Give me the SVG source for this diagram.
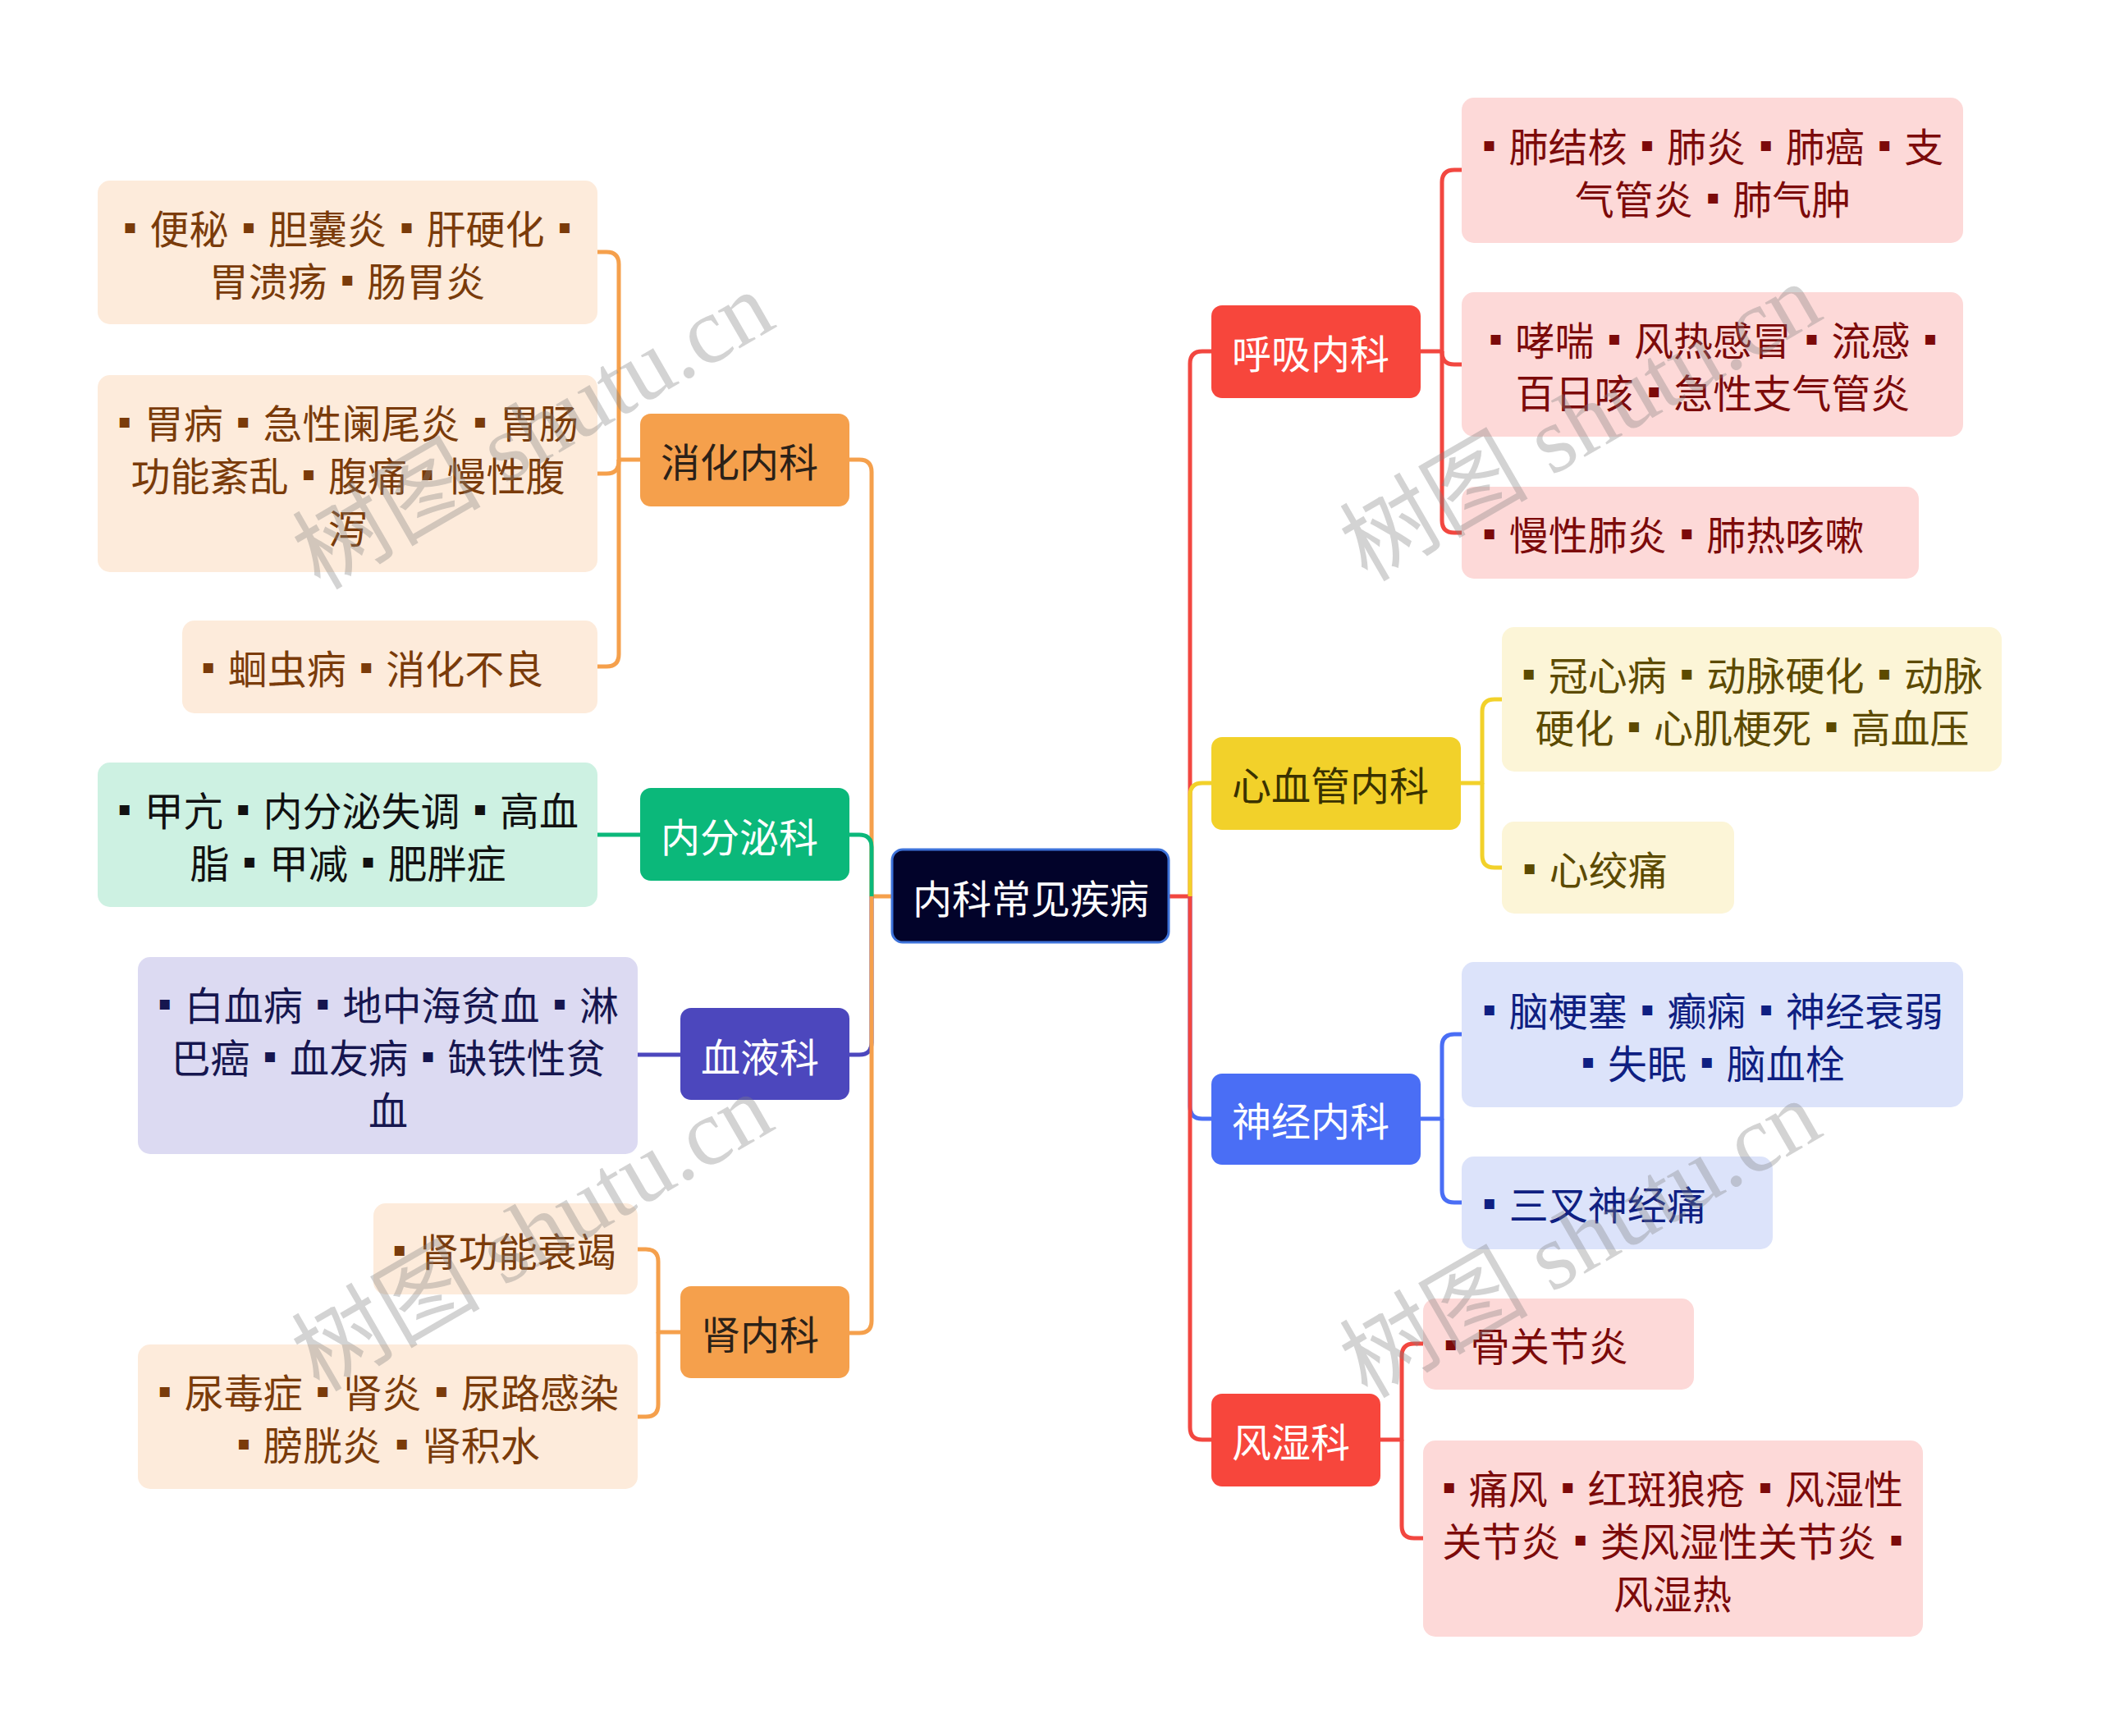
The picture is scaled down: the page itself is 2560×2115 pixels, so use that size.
<svg xmlns="http://www.w3.org/2000/svg" width="2560" height="2115" viewBox="0 0 2560 2115">
<style>
text{font-family:"Noto Sans CJK SC","Noto Sans",sans-serif;font-size:48px;dominant-baseline:central}
.b{font-family:"Liberation Sans","Noto Sans CJK SC",sans-serif}
.c{stroke-width:5;fill:none;stroke-linejoin:round;stroke-linecap:butt}
.or{stroke:#f5a04c}.gr{stroke:#0bb87a}.pu{stroke:#4c47bd}.rd{stroke:#f24740}.ye{stroke:#f2d12a}.bl{stroke:#4a6ef5}
.m{text-anchor:middle}
.to,.tg,.tp,.tr,.ty,.tb{word-spacing:5px}
.to{fill:#7a3b0a}.tg{fill:#111111}.tp{fill:#16164f}.tr{fill:#7c0a0a}.ty{fill:#5c4a00}.tb{fill:#0f1f82}
.w{fill:#ffffff}.dk{fill:#2b2118}.dy{fill:#3a3200}
.wm{font-family:"Liberation Serif","Noto Sans CJK SC",serif;font-size:115px;fill:#808080;fill-opacity:0.35;text-anchor:middle}
</style>
<rect width="2560" height="2115" fill="#ffffff"/>
<g id="connectors">
<path class="c or" d="M1087 1092 H1062 V575 Q1062 560 1047 560 H1035"/>
<path class="c gr" d="M1062 1092 V1032 Q1062 1017 1047 1017 H1035"/>
<path class="c pu" d="M1062 1092 V1270 Q1062 1285 1047 1285 H1035"/>
<path class="c or" d="M1062 1092 V1609 Q1062 1624 1047 1624 H1035"/>
<path class="c rd" d="M1424 1092 H1450 V443 Q1450 428 1465 428 H1476"/>
<path class="c ye" d="M1450 1092 V969 Q1450 954 1465 954 H1476"/>
<path class="c bl" d="M1450 1092 V1348 Q1450 1363 1465 1363 H1476"/>
<path class="c rd" d="M1450 1092 V1739 Q1450 1754 1465 1754 H1476"/>
<path class="c or" d="M780 560 H754 V322 Q754 307 739 307 H728"/>
<path class="c or" d="M754 560 V562 Q754 577 739 577 H728"/>
<path class="c or" d="M754 560 V797 Q754 812 739 812 H728"/>
<path class="c gr" d="M780 1017 H728"/>
<path class="c pu" d="M829 1285 H777"/>
<path class="c or" d="M829 1623 H802 V1537 Q802 1522 787 1522 H777"/>
<path class="c or" d="M802 1623 V1711 Q802 1726 787 1726 H777"/>
<path class="c rd" d="M1731 428 H1757 V222 Q1757 207 1772 207 H1781"/>
<path class="c rd" d="M1757 428 V429 Q1757 444 1772 444 H1781"/>
<path class="c rd" d="M1757 428 V634 Q1757 649 1772 649 H1781"/>
<path class="c ye" d="M1780 954 H1806 V867 Q1806 852 1821 852 H1830"/>
<path class="c ye" d="M1806 954 V1042 Q1806 1057 1821 1057 H1830"/>
<path class="c bl" d="M1731 1363 H1757 V1275 Q1757 1260 1772 1260 H1781"/>
<path class="c bl" d="M1757 1363 V1450 Q1757 1465 1772 1465 H1781"/>
<path class="c rd" d="M1682 1754 H1708 V1652 Q1708 1637 1723 1637 H1734"/>
<path class="c rd" d="M1708 1754 V1859 Q1708 1874 1723 1874 H1734"/>
</g>
<g id="root">
<rect x="1087" y="1035" width="337" height="113" rx="13" fill="#02032a" stroke="#3d72d9" stroke-width="3"/>
<text class="w" x="1112" y="1092">内科常见疾病</text>
</g>
<g id="n-xiaohua">
<rect x="780" y="504" width="255" height="113" rx="13" fill="#f5a04c"/>
<text class="dk" x="805" y="560">消化内科</text>
</g>
<g id="n-neifenmi">
<rect x="780" y="960" width="255" height="113" rx="13" fill="#0bb87a"/>
<text class="w" x="805" y="1017">内分泌科</text>
</g>
<g id="n-xueye">
<rect x="829" y="1228" width="206" height="112" rx="13" fill="#4c47bd"/>
<text class="w" x="854" y="1285">血液科</text>
</g>
<g id="n-shen">
<rect x="829" y="1567" width="206" height="112" rx="13" fill="#f5a04c"/>
<text class="dk" x="854" y="1623">肾内科</text>
</g>
<g id="n-huxi">
<rect x="1476" y="372" width="255" height="113" rx="13" fill="#f7463c"/>
<text class="w" x="1501" y="428">呼吸内科</text>
</g>
<g id="n-xinxueguan">
<rect x="1476" y="898" width="304" height="113" rx="13" fill="#f2d12a"/>
<text class="dy" x="1501" y="954">心血管内科</text>
</g>
<g id="n-shenjing">
<rect x="1476" y="1308" width="255" height="111" rx="13" fill="#4a6ef5"/>
<text class="w" x="1501" y="1363">神经内科</text>
</g>
<g id="n-fengshi">
<rect x="1476" y="1698" width="206" height="113" rx="13" fill="#f7463c"/>
<text class="w" x="1501" y="1754">风湿科</text>
</g>
<g id="l-xh1">
<rect x="119" y="220" width="609" height="175" rx="15" fill="#fdebdb"/>
<text class="to m" x="423" y="276"><tspan class="b">▪</tspan> 便秘 <tspan class="b">▪</tspan> 胆囊炎 <tspan class="b">▪</tspan> 肝硬化 <tspan class="b">▪</tspan></text>
<text class="to m" x="423" y="340">胃溃疡 <tspan class="b">▪</tspan> 肠胃炎</text>
</g>
<g id="l-xh2">
<rect x="119" y="457" width="609" height="240" rx="15" fill="#fdebdb"/>
<text class="to m" x="424" y="513"><tspan class="b">▪</tspan> 胃病 <tspan class="b">▪</tspan> 急性阑尾炎 <tspan class="b">▪</tspan> 胃肠</text>
<text class="to m" x="424" y="577">功能紊乱 <tspan class="b">▪</tspan> 腹痛 <tspan class="b">▪</tspan> 慢性腹</text>
<text class="to m" x="424" y="641">泻</text>
</g>
<g id="l-xh3">
<rect x="222" y="756" width="506" height="113" rx="15" fill="#fdebdb"/>
<text class="to" x="245" y="812"><tspan class="b">▪</tspan> 蛔虫病 <tspan class="b">▪</tspan> 消化不良</text>
</g>
<g id="l-nfm">
<rect x="119" y="929" width="609" height="176" rx="15" fill="#cdf1e2"/>
<text class="tg m" x="424" y="985"><tspan class="b">▪</tspan> 甲亢 <tspan class="b">▪</tspan> 内分泌失调 <tspan class="b">▪</tspan> 高血</text>
<text class="tg m" x="424" y="1049">脂 <tspan class="b">▪</tspan> 甲减 <tspan class="b">▪</tspan> 肥胖症</text>
</g>
<g id="l-xy">
<rect x="168" y="1166" width="609" height="240" rx="15" fill="#dcdaf2"/>
<text class="tp m" x="473" y="1222"><tspan class="b">▪</tspan> 白血病 <tspan class="b">▪</tspan> 地中海贫血 <tspan class="b">▪</tspan> 淋</text>
<text class="tp m" x="473" y="1286">巴癌 <tspan class="b">▪</tspan> 血友病 <tspan class="b">▪</tspan> 缺铁性贫</text>
<text class="tp m" x="473" y="1350">血</text>
</g>
<g id="l-shen1">
<rect x="455" y="1466" width="322" height="111" rx="15" fill="#fdebdb"/>
<text class="to" x="478" y="1522"><tspan class="b">▪</tspan> 肾功能衰竭</text>
</g>
<g id="l-shen2">
<rect x="168" y="1638" width="609" height="176" rx="15" fill="#fdebdb"/>
<text class="to m" x="473" y="1694"><tspan class="b">▪</tspan> 尿毒症 <tspan class="b">▪</tspan> 肾炎 <tspan class="b">▪</tspan> 尿路感染</text>
<text class="to m" x="473" y="1758"><tspan class="b">▪</tspan> 膀胱炎 <tspan class="b">▪</tspan> 肾积水</text>
</g>
<g id="l-hx1">
<rect x="1781" y="119" width="611" height="177" rx="15" fill="#fdd9d8"/>
<text class="tr m" x="2087" y="176"><tspan class="b">▪</tspan> 肺结核 <tspan class="b">▪</tspan> 肺炎 <tspan class="b">▪</tspan> 肺癌 <tspan class="b">▪</tspan> 支</text>
<text class="tr m" x="2087" y="240">气管炎 <tspan class="b">▪</tspan> 肺气肿</text>
</g>
<g id="l-hx2">
<rect x="1781" y="356" width="611" height="176" rx="15" fill="#fdd9d8"/>
<text class="tr m" x="2087" y="412"><tspan class="b">▪</tspan> 哮喘 <tspan class="b">▪</tspan> 风热感冒 <tspan class="b">▪</tspan> 流感 <tspan class="b">▪</tspan></text>
<text class="tr m" x="2087" y="476">百日咳 <tspan class="b">▪</tspan> 急性支气管炎</text>
</g>
<g id="l-hx3">
<rect x="1781" y="593" width="557" height="112" rx="15" fill="#fdd9d8"/>
<text class="tr" x="1806" y="649"><tspan class="b">▪</tspan> 慢性肺炎 <tspan class="b">▪</tspan> 肺热咳嗽</text>
</g>
<g id="l-xxg1">
<rect x="1830" y="764" width="609" height="176" rx="15" fill="#fcf5d7"/>
<text class="ty m" x="2135" y="820"><tspan class="b">▪</tspan> 冠心病 <tspan class="b">▪</tspan> 动脉硬化 <tspan class="b">▪</tspan> 动脉</text>
<text class="ty m" x="2135" y="884">硬化 <tspan class="b">▪</tspan> 心肌梗死 <tspan class="b">▪</tspan> 高血压</text>
</g>
<g id="l-xxg2">
<rect x="1830" y="1001" width="283" height="112" rx="15" fill="#fcf5d7"/>
<text class="ty" x="1855" y="1057"><tspan class="b">▪</tspan> 心绞痛</text>
</g>
<g id="l-sj1">
<rect x="1781" y="1172" width="611" height="177" rx="15" fill="#dce3fa"/>
<text class="tb m" x="2087" y="1229"><tspan class="b">▪</tspan> 脑梗塞 <tspan class="b">▪</tspan> 癫痫 <tspan class="b">▪</tspan> 神经衰弱</text>
<text class="tb m" x="2087" y="1293"><tspan class="b">▪</tspan> 失眠 <tspan class="b">▪</tspan> 脑血栓</text>
</g>
<g id="l-sj2">
<rect x="1781" y="1409" width="379" height="113" rx="15" fill="#dce3fa"/>
<text class="tb" x="1806" y="1465"><tspan class="b">▪</tspan> 三叉神经痛</text>
</g>
<g id="l-fs1">
<rect x="1734" y="1582" width="330" height="111" rx="15" fill="#fdd9d8"/>
<text class="tr" x="1759" y="1637"><tspan class="b">▪</tspan> 骨关节炎</text>
</g>
<g id="l-fs2">
<rect x="1734" y="1755" width="609" height="239" rx="15" fill="#fdd9d8"/>
<text class="tr m" x="2038" y="1811"><tspan class="b">▪</tspan> 痛风 <tspan class="b">▪</tspan> 红斑狼疮 <tspan class="b">▪</tspan> 风湿性</text>
<text class="tr m" x="2038" y="1875">关节炎 <tspan class="b">▪</tspan> 类风湿性关节炎 <tspan class="b">▪</tspan></text>
<text class="tr m" x="2038" y="1939">风湿热</text>
</g>
<g id="watermarks">
<text class="wm" transform="translate(650 525) rotate(-30)">树图 shutu.cn</text>
<text class="wm" transform="translate(1926 515) rotate(-30)">树图 shutu.cn</text>
<text class="wm" transform="translate(649 1502) rotate(-30)">树图 shutu.cn</text>
<text class="wm" transform="translate(1926 1510) rotate(-30)">树图 shutu.cn</text>
</g>
</svg>
